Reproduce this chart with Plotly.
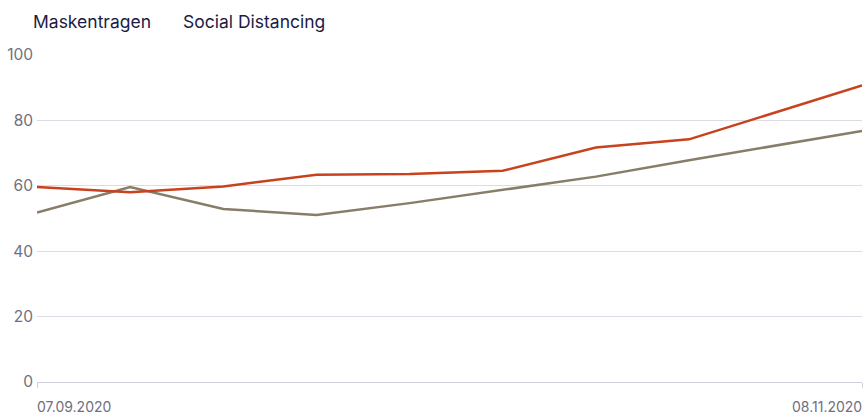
import plotly.graph_objects as go

dates = ["2020-09-07", "2020-09-14", "2020-09-21", "2020-09-28", "2020-10-05",
         "2020-10-12", "2020-10-19", "2020-10-26", "2020-11-08"]
maskentragen = [59.6, 58.0, 59.8, 63.4, 63.6, 64.6, 71.7, 74.2, 90.7]
social_distancing = [51.8, 59.6, 52.9, 51.1, 54.7, 58.8, 62.8, 67.8, 76.8]
series_names = ["Maskentragen", "Social Distancing"]
y_ticks = [0, 20, 40, 60, 80, 100]
x_tick_labels = ["07.09.2020", "08.11.2020"]

W, H = 863, 414
L, R, T, B = 37, 1, 55, 32
PW, PH = W - L - R, H - T - B

fig = go.Figure()
fig.add_trace(go.Scatter(x=dates, y=social_distancing, mode="lines", name=series_names[1],
                         line=dict(color="#877d69", width=2.5), cliponaxis=False))
fig.add_trace(go.Scatter(x=dates, y=maskentragen, mode="lines", name=series_names[0],
                         line=dict(color="#c8421d", width=2.5), cliponaxis=False))

tick_color = "#6f6f80"
fig.update_layout(
    width=W, height=H,
    margin=dict(l=L, r=R, t=T, b=B, autoexpand=False),
    paper_bgcolor="white", plot_bgcolor="white",
    showlegend=False,
    font=dict(family="Inter, Roboto, sans-serif", color=tick_color, size=14),
    xaxis=dict(range=[dates[0], dates[-1]], showgrid=False, zeroline=False,
               tickvals=[dates[0], dates[-1]], showticklabels=False, automargin=False,
               ticks="outside", ticklen=5, tickcolor="#d0d0da", tickwidth=1,
               showline=True, linecolor="#d0d0da", linewidth=1),
    yaxis=dict(range=[0, 100], tickvals=y_ticks, showgrid=True, gridcolor="#dcdce5",
               gridwidth=1, zeroline=False, showline=False, ticks="", automargin=False,
               ticklabelstandoff=3, tickfont=dict(size=15.5, color=tick_color)),
)

fig.add_annotation(x=dates[0], y=0, xref="x", yref="paper", yshift=-14,
                   text=x_tick_labels[0], showarrow=False, xanchor="left", yanchor="top",
                   xshift=-2, font=dict(size=14, color=tick_color))
fig.add_annotation(x=dates[-1], y=0, xref="x", yref="paper", yshift=-14,
                   text=x_tick_labels[1], showarrow=False, xanchor="right", yanchor="top",
                   xshift=2, font=dict(size=14, color=tick_color))

legend_y = 1 + (T - 22) / PH
fig.add_annotation(xref="paper", x=(31 - L) / PW, yref="paper", y=legend_y,
                   text=series_names[0], showarrow=False, xanchor="left", yanchor="middle",
                   font=dict(size=17.5, color="#1b1b45"))
fig.add_annotation(xref="paper", x=(181 - L) / PW, yref="paper", y=legend_y,
                   text=series_names[1], showarrow=False, xanchor="left", yanchor="middle",
                   font=dict(size=17.5, color="#1b1b45"))

# remove the default 8px page margin so the figure fills the window exactly
fig.write_html("out.html", config={"displayModeBar": False},
               post_script="document.body.style.margin='0';document.body.style.overflow='hidden';")
